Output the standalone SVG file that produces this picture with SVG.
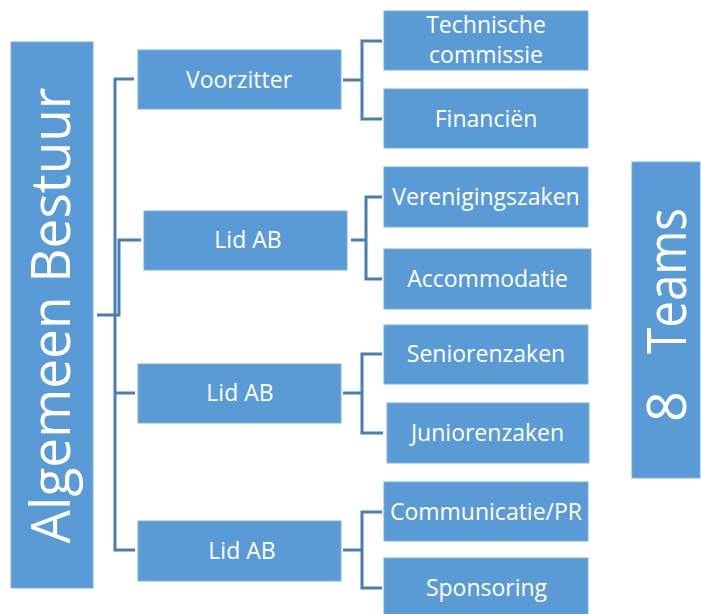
<svg xmlns="http://www.w3.org/2000/svg" width="701" height="614" viewBox="0 0 701 614">
<style>
.box{fill:#5B9BD5;stroke:#7DB0E0;stroke-width:1}
.lbl{font-family:"Open Sans","Noto Sans",sans-serif;font-size:23px;fill:#fff;text-anchor:middle}
.big{font-family:"Open Sans","Noto Sans",sans-serif;font-size:54px;fill:#fff}
.con{fill:none;stroke:#4A7EB0;stroke-width:3}
</style>
<rect width="701" height="614" fill="#fff"/>
<g id="connectors">
<path class="con" d="M97,315 H119 V240 H141"/>
<path class="con" d="M134,79 H115 V550 H135"/>
<path class="con" d="M115,393 H135"/>
<path class="con" d="M343,80 H362"/>
<path class="con" d="M382,41 H362 V119 H382"/>
<path class="con" d="M351,240 H366"/>
<path class="con" d="M382,197 H366 V279 H382"/>
<path class="con" d="M343,393 H362"/>
<path class="con" d="M382,354 H362 V433 H383"/>
<path class="con" d="M343,550 H362"/>
<path class="con" d="M382,512 H362 V588 H382"/>
</g>
<g id="algemeen-bestuur">
<rect class="box" x="11" y="42" width="82" height="546"/>
<text class="big" text-anchor="middle" transform="translate(70,315.5) rotate(-90)" textLength="456" lengthAdjust="spacingAndGlyphs">Algemeen Bestuur</text>
</g>
<g id="voorzitter">
<rect class="box" x="138" y="50" width="203" height="59"/>
<text class="lbl" x="239" y="87.5">Voorzitter</text>
</g>
<g id="lid-ab-1">
<rect class="box" x="144" y="211" width="203" height="59"/>
<text class="lbl" x="248" y="248">Lid AB</text>
</g>
<g id="lid-ab-2">
<rect class="box" x="138" y="364" width="203" height="59"/>
<text class="lbl" x="240" y="401">Lid AB</text>
</g>
<g id="lid-ab-3">
<rect class="box" x="138" y="521" width="203" height="60"/>
<text class="lbl" x="242" y="559">Lid AB</text>
</g>
<g id="technische-commissie">
<rect class="box" x="384" y="11" width="204" height="59"/>
<text class="lbl"><tspan x="486" y="33">Technische</tspan><tspan x="486" y="63">commissie</tspan></text>
</g>
<g id="financien">
<rect class="box" x="384" y="89" width="204" height="59"/>
<text class="lbl" x="486" y="126.5">Financiën</text>
</g>
<g id="verenigingszaken">
<rect class="box" x="384" y="167" width="204" height="60"/>
<text class="lbl" x="486" y="205">Verenigingszaken</text>
</g>
<g id="accommodatie">
<rect class="box" x="384" y="249" width="207" height="60"/>
<text class="lbl" x="487.5" y="287">Accommodatie</text>
</g>
<g id="seniorenzaken">
<rect class="box" x="384" y="325" width="204" height="59"/>
<text class="lbl" x="486" y="362">Seniorenzaken</text>
</g>
<g id="juniorenzaken">
<rect class="box" x="387" y="403" width="202" height="60"/>
<text class="lbl" x="487.5" y="440.5">Juniorenzaken</text>
</g>
<g id="communicatie-pr">
<rect class="box" x="384" y="482" width="204" height="59"/>
<text class="lbl" x="486" y="519.5">Communicatie/PR</text>
</g>
<g id="sponsoring">
<rect class="box" x="384" y="558" width="204" height="60"/>
<text class="lbl" x="486.5" y="596">Sponsoring</text>
</g>
<g id="teams">
<rect class="box" x="632" y="162" width="68" height="316"/>
<text class="big" transform="translate(686,422) rotate(-90)" x="0" y="0">8 <tspan x="68" textLength="146" lengthAdjust="spacingAndGlyphs">Teams</tspan></text>
</g>
</svg>
